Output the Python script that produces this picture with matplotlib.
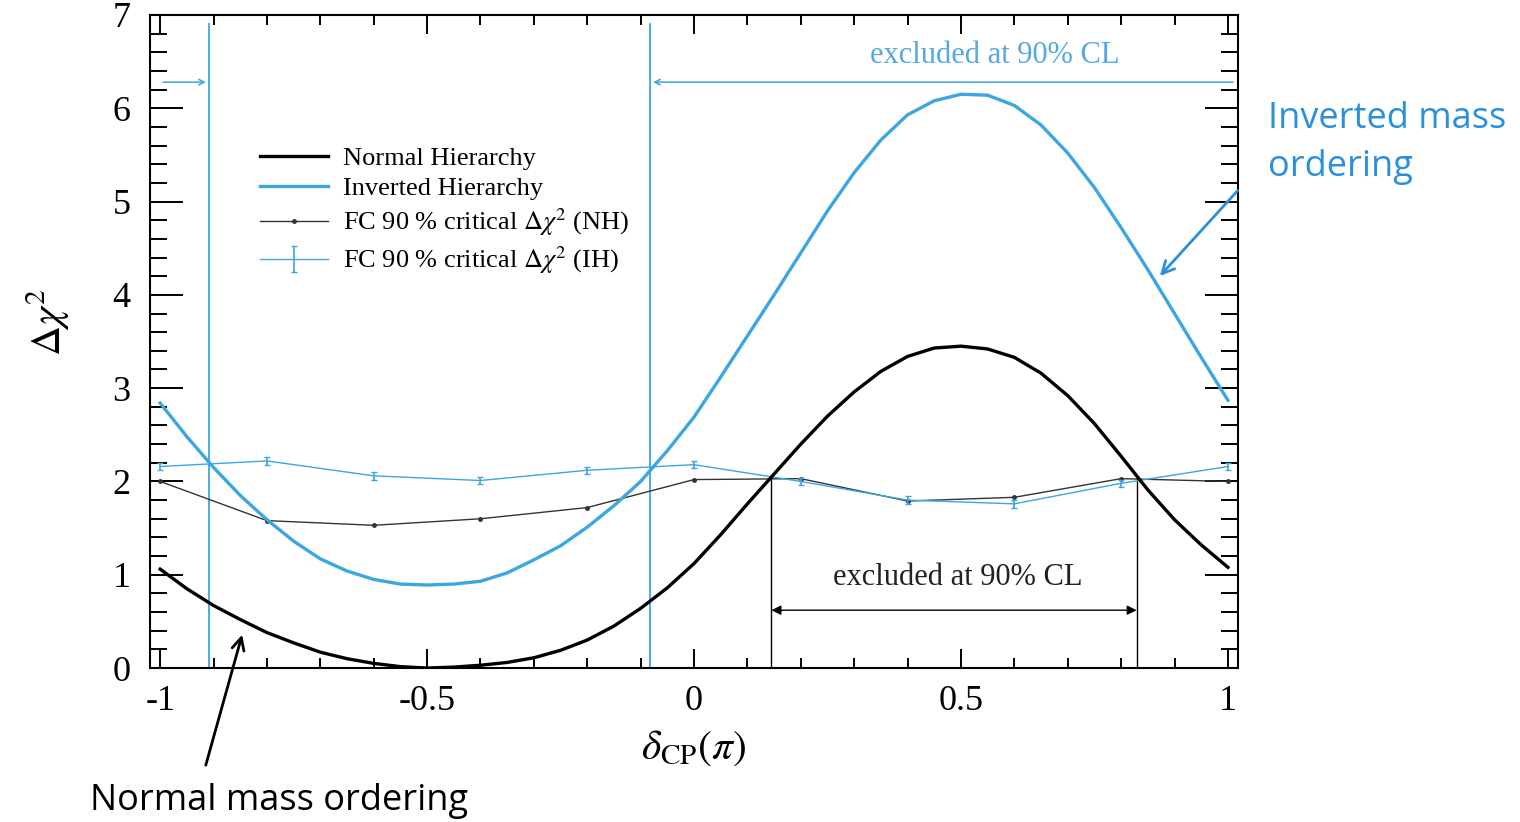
import numpy as np
import matplotlib
matplotlib.use("Agg")
import matplotlib.pyplot as plt
from matplotlib.ticker import MultipleLocator

# delta_CP grid (units of pi)
dcp = [-1.0, -0.95, -0.9, -0.85, -0.8, -0.75, -0.7, -0.65, -0.6, -0.55, -0.5,
       -0.45, -0.4, -0.35, -0.3, -0.25, -0.2, -0.15, -0.1, -0.05, 0.0,
       0.05, 0.1, 0.15, 0.2, 0.25, 0.3, 0.35, 0.4, 0.45, 0.5,
       0.55, 0.6, 0.65, 0.7, 0.75, 0.8, 0.85, 0.9, 0.95, 1.0]

# delta chi^2, normal hierarchy
chi2_nh = [1.06, 0.85, 0.67, 0.52, 0.38, 0.27, 0.17, 0.10, 0.05, 0.015, 0.0,
           0.01, 0.03, 0.06, 0.11, 0.19, 0.30, 0.45, 0.64, 0.86, 1.12,
           1.43, 1.76, 2.08, 2.40, 2.70, 2.96, 3.18, 3.34, 3.43, 3.45,
           3.42, 3.33, 3.16, 2.92, 2.62, 2.27, 1.91, 1.59, 1.32, 1.08]

# delta chi^2, inverted hierarchy
chi2_ih = [2.84, 2.48, 2.15, 1.85, 1.59, 1.36, 1.17, 1.04, 0.95, 0.90, 0.89,
           0.90, 0.93, 1.02, 1.16, 1.31, 1.51, 1.74, 2.00, 2.33, 2.69,
           3.12, 3.56, 4.00, 4.45, 4.90, 5.31, 5.66, 5.93, 6.08, 6.15,
           6.14, 6.03, 5.82, 5.52, 5.15, 4.72, 4.27, 3.80, 3.33, 2.87]

# Feldman-Cousins 90% critical values
fc_x = [-1.0, -0.8, -0.6, -0.4, -0.2, 0.0, 0.2, 0.4, 0.6, 0.8, 1.0]
fc_nh = [2.00, 1.58, 1.53, 1.60, 1.72, 2.02, 2.03, 1.79, 1.83, 2.03, 2.00]
fc_ih = [2.16, 2.22, 2.06, 2.01, 2.12, 2.18, 2.00, 1.80, 1.76, 1.98, 2.16]
fc_ih_err = [0.04, 0.04, 0.04, 0.04, 0.04, 0.04, 0.04, 0.04, 0.04, 0.04, 0.04]

# excluded-region boundaries
excl_ih = [-0.909, -0.082]
excl_nh = [0.145, 0.829]
excl_nh_top = 2.04

black = "black"
blue = "#3ca6e0"

plt.rcParams["font.family"] = ["Liberation Serif", "DejaVu Serif"]
plt.rcParams["mathtext.fontset"] = "stix"

fig = plt.figure(figsize=(15.2, 8.22), dpi=100)
ax = fig.add_axes([0.0987, 0.1873, 0.7158, 0.7945])

ax.plot(dcp, chi2_nh, color=black, lw=2.4, label="Normal Hierarchy", zorder=4)
ax.plot(dcp, chi2_ih, color=blue, lw=2.4, label="Inverted Hierarchy", zorder=4)
ax.plot(fc_x, fc_nh, color="#333333", lw=1.0, marker="o", markersize=2.5,
        label=r"FC 90 % critical $\Delta\chi^{2}$ (NH)", zorder=3)
ax.errorbar(fc_x, fc_ih, yerr=fc_ih_err, color=blue, lw=1.0, elinewidth=1.2,
            capsize=2.5, marker="", label=r"FC 90 % critical $\Delta\chi^{2}$ (IH)",
            zorder=3)

# IH exclusion (blue)
for xv in excl_ih:
    ax.plot([xv, xv], [0, 6.9], color=blue, lw=1.3, zorder=2)
ax.annotate("", xy=(excl_ih[0], 6.28), xytext=(-1.0, 6.28),
            arrowprops=dict(arrowstyle="->", color=blue, lw=1.1, mutation_scale=10))
ax.annotate("", xy=(excl_ih[1], 6.28), xytext=(1.015, 6.28),
            arrowprops=dict(arrowstyle="->", color=blue, lw=1.1, mutation_scale=10))
ax.text(0.564, 6.57, "excluded at 90% CL", color="#55a8e2", fontsize=22,
        ha="center", va="center")

# NH exclusion (black)
for xv in excl_nh:
    ax.plot([xv, xv], [0, excl_nh_top], color=black, lw=1.0, zorder=2)
ax.annotate("", xy=(excl_nh[0], 0.62), xytext=(excl_nh[1], 0.62),
            arrowprops=dict(arrowstyle="<|-|>", color=black, lw=1.0,
                            mutation_scale=14, shrinkA=0, shrinkB=0))
ax.text(0.494, 0.975, "excluded at 90% CL", color="#222222", fontsize=22,
        ha="center", va="center")

ax.set_xlim(-1.019, 1.019)
ax.set_ylim(0, 7)
ax.xaxis.set_major_locator(MultipleLocator(0.5))
ax.xaxis.set_minor_locator(MultipleLocator(0.1))
ax.yaxis.set_major_locator(MultipleLocator(1))
ax.yaxis.set_minor_locator(MultipleLocator(0.2))
ax.xaxis.set_major_formatter(plt.FuncFormatter(lambda v, p: f"{v:g}"))
ax.tick_params(which="both", direction="in", top=True, right=True, width=1.4)
ax.tick_params(axis="y", which="major", length=24, labelsize=26, pad=14)
ax.tick_params(axis="y", which="minor", length=12)
ax.tick_params(axis="x", which="major", length=14, labelsize=26, pad=12)
ax.tick_params(axis="x", which="minor", length=7)
for s in ax.spines.values():
    s.set_linewidth(1.5)

ax.set_xlabel(r"$\delta_{\rm CP}(\pi)$", fontsize=30, labelpad=8)
ax.set_ylabel(r"$\Delta\chi^{2}$", fontsize=30)
ax.yaxis.set_label_coords(-0.072, 0.53)

ax.legend(loc="upper left", bbox_to_anchor=(0.091, 0.815), frameon=False,
          fontsize=19, handlelength=2.6, handletextpad=0.55, labelspacing=0.25,
          borderaxespad=0)

# outside annotations
ax.annotate("", xy=(0.869, 4.18), xytext=(1.022, 5.14), annotation_clip=False,
            arrowprops=dict(arrowstyle="->", color="#2a8fdc", lw=2.0, mutation_scale=22))
ax.text(1.075, 6.08, "Inverted mass\nordering", color="#2a8fdc", fontsize=26,
        family="Open Sans", ha="left", va="top", linespacing=1.45, clip_on=False)
ax.annotate("", xy=(-0.845, 0.386), xytext=(-0.916, -1.07), annotation_clip=False,
            arrowprops=dict(arrowstyle="->", color=black, lw=2.0, mutation_scale=22))
ax.text(-0.777, -1.43, "Normal mass ordering", color=black, fontsize=26,
        family="Open Sans", ha="center", va="center", clip_on=False)

fig.savefig("out.png", dpi=100)
